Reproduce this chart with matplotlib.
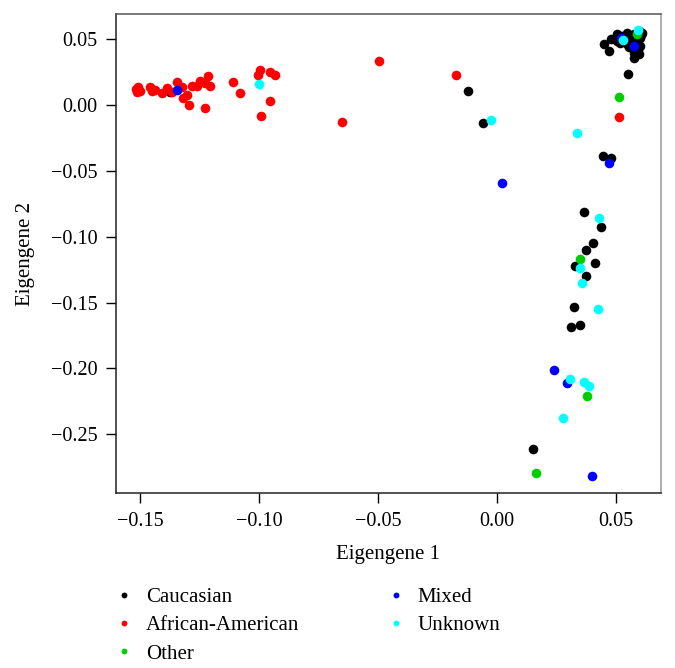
import numpy as np
import matplotlib
matplotlib.use("Agg")
from matplotlib import pyplot as plt
from matplotlib.lines import Line2D
from matplotlib.ticker import FuncFormatter

plt.rcParams['font.family'] = ['Liberation Serif', 'DejaVu Serif']

# Eigengene 1 / Eigengene 2 values per group
cauc_x = [-0.1374, -0.0122, -0.0058, 0.0445, 0.0479, 0.0366, 0.0438, 0.0402, 0.0374,
          0.0328, 0.0410, 0.0375, 0.0321, 0.0311, 0.0350, 0.0151, 0.0548,
          0.0447, 0.0468, 0.0478, 0.0503, 0.0524, 0.0545, 0.0573, 0.0594, 0.0608,
          0.0559, 0.0587, 0.0573, 0.0573, 0.0594, 0.0573, 0.0503, 0.0529, 0.0601,
          0.0545, 0.0560, 0.0580, 0.0600, 0.0590, 0.0515, 0.0555, 0.0585, 0.0540, 0.0605]
cauc_y = [0.0098, 0.0108, -0.0134, -0.0386, -0.0402, -0.0813, -0.0924, -0.1045, -0.1101,
          -0.1225, -0.1199, -0.1298, -0.1530, -0.1684, -0.1672, -0.2614, 0.0237,
          0.0464, 0.0409, 0.0502, 0.0540, 0.0523, 0.0548, 0.0536, 0.0561, 0.0543,
          0.0485, 0.0472, 0.0460, 0.0396, 0.0384, 0.0358, 0.0485, 0.0500, 0.0510,
          0.0460, 0.0520, 0.0500, 0.0450, 0.0420, 0.0470, 0.0440, 0.0410, 0.0510, 0.0530]

afam_x = [-0.1514, -0.1508, -0.1500, -0.1513, -0.1458, -0.1450, -0.1437, -0.1408,
          -0.1387, -0.1366, -0.1345, -0.1324, -0.1319, -0.1303, -0.1294, -0.1282,
          -0.1261, -0.1248, -0.1227, -0.1214, -0.1206, -0.1227, -0.1109, -0.1080,
          -0.1004, -0.0996, -0.0954, -0.0933, -0.0954, -0.0992, -0.0650, -0.0496,
          -0.0174, 0.0511]
afam_y = [0.0121, 0.0136, 0.0106, 0.0098, 0.0136, 0.0106, 0.0114, 0.0091,
          0.0129, 0.0098, 0.0174, 0.0136, 0.0053, 0.0076, 0.0000, 0.0144,
          0.0144, 0.0182, 0.0167, 0.0220, 0.0144, -0.0023, 0.0174, 0.0091,
          0.0227, 0.0265, 0.0250, 0.0227, 0.0030, -0.0083, -0.0126, 0.0333,
          0.0225, -0.0093]

other_x = [0.0510, 0.0350, 0.0379, 0.0165, 0.0587]
other_y = [0.0061, -0.1172, -0.2212, -0.2793, 0.0536]

mixed_x = [-0.1345, 0.0022, 0.0471, 0.0237, 0.0294, 0.0400, 0.0573, 0.0520]
mixed_y = [0.0114, -0.0596, -0.0439, -0.2013, -0.2114, -0.2816, 0.0447, 0.0505]

unk_x = [-0.1000, -0.0024, 0.0336, 0.0429, 0.0350, 0.0358, 0.0424, 0.0304, 0.0363,
         0.0384, 0.0276, 0.0590, 0.0528]
unk_y = [0.0159, -0.0116, -0.0212, -0.0859, -0.1240, -0.1354, -0.1548, -0.2081, -0.2104,
         -0.2134, -0.2374, 0.0566, 0.0490]

groups = ["Caucasian", "African-American", "Other", "Mixed", "Unknown"]
colors = ["#000000", "#ff0000", "#00cd00", "#0000ff", "#00ffff"]
xs = [cauc_x, afam_x, other_x, mixed_x, unk_x]
ys = [cauc_y, afam_y, other_y, mixed_y, unk_y]
zo = [2, 3, 4, 4, 4]

fig = plt.figure(figsize=(6.75, 6.68), dpi=100)
ax = fig.add_axes([116/675, 1-493/668, 545/675, 479/668])

for i in range(len(groups)):
    ax.scatter(xs[i], ys[i], s=48, c=colors[i], linewidths=0, zorder=zo[i])

def fmt(v, pos):
    return ("%.2f" % v).replace("-", "\u2212")

ax.set_xlim(-0.160, 0.0688)
ax.set_ylim(-0.2945, 0.0690)
ax.set_xticks([-0.15, -0.10, -0.05, 0.00, 0.05])
ax.set_yticks([0.05, 0.00, -0.05, -0.10, -0.15, -0.20, -0.25])
ax.xaxis.set_major_formatter(FuncFormatter(fmt))
ax.yaxis.set_major_formatter(FuncFormatter(fmt))
ax.tick_params(labelsize=14.5, length=7.5, width=1.0, pad=6, colors='black')

ax.spines['left'].set_color('#222222')
ax.spines['bottom'].set_color('#222222')
ax.spines['top'].set_color('#555555')
ax.spines['right'].set_color('#999999')
for s in ax.spines.values():
    s.set_linewidth(1.1)

ax.set_xlabel("Eigengene 1", fontsize=15, labelpad=10)
ax.set_ylabel("Eigengene 2", fontsize=15, labelpad=11)

handles = [Line2D([], [], linestyle='none', marker='o', markersize=4.2,
                  markerfacecolor=c, markeredgewidth=0) for c in colors]

fig.legend(handles[:3], groups[:3], loc='upper left', bbox_to_anchor=(103/675, 1-577/668),
           frameon=False, borderpad=0, handlelength=1.0, handletextpad=0.55,
           labelspacing=0.42, fontsize=15)
fig.legend(handles[3:], groups[3:], loc='upper left', bbox_to_anchor=(375/675, 1-577/668),
           frameon=False, borderpad=0, handlelength=1.0, handletextpad=0.55,
           labelspacing=0.42, fontsize=15)

plt.savefig("out.png")
